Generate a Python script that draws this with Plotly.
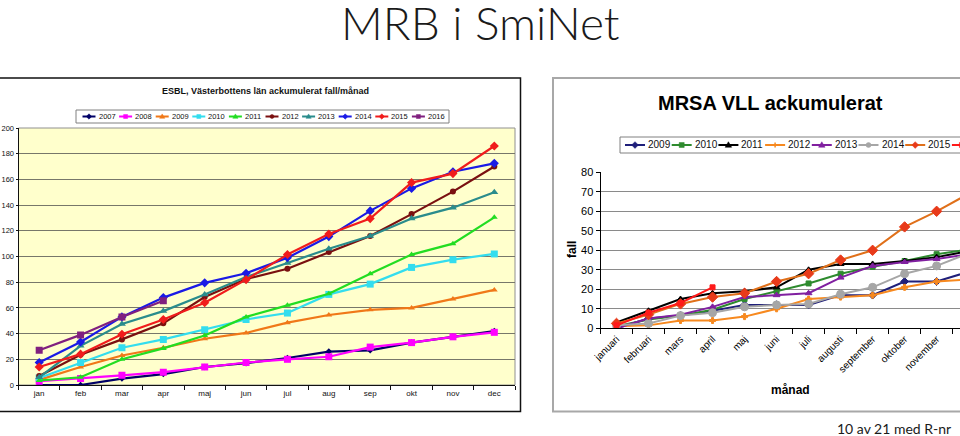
import plotly.graph_objects as go

# ---------------- data ----------------
esbl_months = ["jan", "feb", "mar", "apr", "maj", "jun", "jul", "aug", "sep", "okt", "nov", "dec"]
esbl_years = ["2007", "2008", "2009", "2010", "2011", "2012", "2013", "2014", "2015", "2016"]
esbl_2007 = [0, 0, 5, 8.5, 14, 17, 21, 26, 27, 33, 37.5, 42]
esbl_2008 = [3, 5, 7.5, 10, 14, 17.5, 20, 22, 29.5, 33, 37.5, 41]
esbl_2009 = [4, 14, 23, 29, 36, 40.5, 48.5, 54.5, 58.5, 60, 67, 74]
esbl_2010 = [5.5, 17.5, 29, 35.5, 43, 51, 56, 70.5, 78.5, 91.5, 97.5, 102]
esbl_2011 = [3.5, 6, 20, 28.5, 38.5, 53, 62, 71, 86.5, 101.5, 110, 130.5]
esbl_2012 = [7, 23.5, 35.5, 48, 68.5, 82.5, 90.5, 103.5, 116, 133, 150.5, 170]
esbl_2013 = [6, 30.5, 47.5, 57.5, 70.5, 84, 95, 106, 116, 129.5, 138, 150]
esbl_2014 = [17.5, 33.5, 53, 68, 79.5, 87, 99, 115.5, 135.5, 153, 166, 172.5]
esbl_2015 = [14, 24, 39.5, 51, 64, 82, 101.5, 117.5, 129.5, 157.5, 164.5, 186]
esbl_2016 = [27, 39, 53, 65.5]
esbl_values = [esbl_2007, esbl_2008, esbl_2009, esbl_2010, esbl_2011,
               esbl_2012, esbl_2013, esbl_2014, esbl_2015, esbl_2016]

mrsa_months = ["januari", "februari", "mars", "april", "maj", "juni", "juli",
               "augusti", "september", "oktober", "november", "december"]
mrsa_years = ["2009", "2010", "2011", "2012", "2013", "2014", "2015", "2016"]
mrsa_2009 = [0, 5, 6.5, 9, 12, 12, 12, 17, 17, 24, 24, 29]
mrsa_2010 = [1, 4.5, 6.5, 9.5, 15, 19, 23, 28, 31.5, 34.5, 38, 40.5]
mrsa_2011 = [3, 9, 15, 18, 19, 21, 30, 33, 33, 34.5, 36.5, 39.5]
mrsa_2012 = [1, 1.5, 4, 4, 6, 10, 15, 16, 17, 21, 24, 25]
mrsa_2013 = [0, 5, 7, 11, 16, 17, 18, 26, 32, 34, 35.5, 38]
mrsa_2014 = [1.5, 2.5, 6.5, 8, 11, 12, 12.5, 17.5, 21, 28, 32, 38.5]
mrsa_2015 = [2.5, 7, 12.5, 16, 18, 24, 28, 35, 40, 52, 60, 69]
mrsa_2016 = [1.5, 8, 13, 21]
mrsa_values = [mrsa_2009, mrsa_2010, mrsa_2011, mrsa_2012,
               mrsa_2013, mrsa_2014, mrsa_2015, mrsa_2016]

# ---------------- styles ----------------
esbl_colors = ["#000066", "#FF00FF", "#F07818", "#33DDEE", "#22DD22",
               "#7A1010", "#2A8C8C", "#1A1AE6", "#F01C1C", "#80207F"]
esbl_symbols = ["diamond", "square", "triangle-up", "square", "triangle-up",
                "circle", "triangle-up", "diamond", "diamond", "square"]
esbl_sizes = [5, 7, 6, 7, 6, 6, 7, 7, 7, 7]

mrsa_colors = ["#1F1F7A", "#2E8B2E", "#000000", "#F7891F",
               "#8020A0", "#A6A6A6", "#E0701A", "#FF1A1A"]
mrsa_mcolors = ["#1F1F7A", "#2E8B2E", "#000000", "#F7891F",
                "#8020A0", "#A6A6A6", "#E83A1A", "#FF1A1A"]
mrsa_symbols = ["diamond", "square", "triangle-up", "cross",
                "triangle-up", "circle", "diamond", "square"]
mrsa_sizes = [6, 5, 6, 5, 6, 8, 8, 5]

W, H = 960, 436
ARIAL = "Arial, Liberation Sans, sans-serif"


def px(x):
    return x / W


def py(y):
    return 1 - y / H


fig = go.Figure()

for name, vals, c, s, sz in zip(esbl_years, esbl_values, esbl_colors, esbl_symbols, esbl_sizes):
    fig.add_trace(go.Scatter(
        x=esbl_months[:len(vals)], y=vals, name=name, mode="lines+markers",
        line=dict(color=c, width=2.2), marker=dict(color=c, symbol=s, size=sz),
        xaxis="x", yaxis="y", showlegend=False))

for name, vals, c, mc, s, sz in zip(mrsa_years, mrsa_values, mrsa_colors, mrsa_mcolors, mrsa_symbols, mrsa_sizes):
    fig.add_trace(go.Scatter(
        x=mrsa_months[:len(vals)], y=vals, name=name, mode="lines+markers",
        line=dict(color=c, width=2),
        marker=dict(color=mc, symbol=s, size=sz, line=dict(color=mc, width=1)),
        xaxis="x2", yaxis="y2", showlegend=False))

shapes = []
annotations = []

# frames and plot backgrounds
shapes.append(dict(type="rect", xref="paper", yref="paper", x0=px(-5), x1=px(520.5),
                   y0=py(411.5), y1=py(78), line=dict(color="#111111", width=1.5), layer="below"))
shapes.append(dict(type="rect", xref="x domain", yref="y domain", x0=0, x1=1, y0=0, y1=1,
                   fillcolor="#FFFFCC", line=dict(color="#909090", width=1), layer="below"))
shapes.append(dict(type="rect", xref="paper", yref="paper", x0=px(553), x1=px(1000),
                   y0=py(411.5), y1=py(78), line=dict(color="#A8A8A8", width=2), layer="below"))


def glyph(symbol, cx, cy, r, color):
    if symbol == "circle":
        return dict(type="circle", xref="paper", yref="paper", x0=px(cx - r), x1=px(cx + r),
                    y0=py(cy + r), y1=py(cy - r), fillcolor=color, line=dict(color=color, width=0.5))
    if symbol == "cross":
        path = (f"M{px(cx - r)},{py(cy)} L{px(cx + r)},{py(cy)} "
                f"M{px(cx)},{py(cy - r)} L{px(cx)},{py(cy + r)}")
        return dict(type="path", xref="paper", yref="paper", path=path,
                    line=dict(color=color, width=1.5))
    if symbol == "square":
        pts = [(cx - r, cy - r), (cx + r, cy - r), (cx + r, cy + r), (cx - r, cy + r)]
    elif symbol == "diamond":
        k = r * 1.35
        pts = [(cx, cy - k), (cx + k, cy), (cx, cy + k), (cx - k, cy)]
    else:
        pts = [(cx, cy - r * 1.3), (cx + r * 1.3, cy + r * 0.9), (cx - r * 1.3, cy + r * 0.9)]
    path = "M" + " L".join(f"{px(x)},{py(y)}" for x, y in pts) + " Z"
    return dict(type="path", xref="paper", yref="paper", path=path,
                fillcolor=color, line=dict(color=color, width=0.5))


def add_legend(names, colors, mcolors, symbols, x0, y, pitch, line_len, r, fsize, box):
    bx0, by0, bx1, by1 = box
    shapes.append(dict(type="rect", xref="paper", yref="paper", x0=px(bx0), x1=px(bx1),
                       y0=py(by1), y1=py(by0), fillcolor="white",
                       line=dict(color="#808080", width=1)))
    for i, (n, c, mc, s) in enumerate(zip(names, colors, mcolors, symbols)):
        xs = x0 + i * pitch
        shapes.append(dict(type="line", xref="paper", yref="paper", x0=px(xs), x1=px(xs + line_len),
                           y0=py(y), y1=py(y), line=dict(color=c, width=2)))
        shapes.append(glyph(s, xs + line_len / 2, y, r, mc))
        if xs + line_len + 1 < W - 10:
            annotations.append(dict(text=n, xref="paper", yref="paper", x=px(xs + line_len + 1), y=py(y),
                                    xanchor="left", yanchor="middle", showarrow=False,
                                    font=dict(family=ARIAL, size=fsize, color="#111111")))


add_legend(esbl_years, esbl_colors, esbl_colors, esbl_symbols,
           82.5, 116.5, 36.6, 13, 2, 7.5, (76, 110, 449, 123))
add_legend(mrsa_years, mrsa_colors, mrsa_mcolors, mrsa_symbols,
           625, 145, 46.7, 20, 2.5, 10, (620, 137, 1000, 153))

# texts
annotations += [
    dict(text="MRB i SmiNet", x=0.5, y=py(22), font=dict(family="Lato", size=46, color="#1a1a1a", weight=300)),
    dict(text="<b>ESBL, Västerbottens län ackumulerat fall/månad</b>", x=px(265), y=py(91),
         font=dict(family=ARIAL, size=9, color="#111111")),
    dict(text="<b>MRSA VLL ackumulerat</b>", x=px(770), y=py(103),
         font=dict(family=ARIAL, size=20, color="#000000")),
    dict(text="<b>fall</b>", x=px(572), y=py(250), textangle=-90,
         font=dict(family=ARIAL, size=12, color="#000000")),
    dict(text="<b>månad</b>", x=px(790), y=py(390),
         font=dict(family=ARIAL, size=12, color="#000000")),
    dict(text="10 av 21 med R-nr", x=px(894), y=py(428),
         font=dict(family="Lato", size=14, color="#1a1a1a")),
]
for a in annotations:
    a.setdefault("xref", "paper")
    a.setdefault("yref", "paper")
    a.setdefault("showarrow", False)
    a.setdefault("xanchor", "center")
    a.setdefault("yanchor", "middle")

fig.update_layout(
    width=W, height=H,
    margin=dict(l=0, r=0, t=0, b=0, pad=0, autoexpand=False),
    paper_bgcolor="white", plot_bgcolor="rgba(0,0,0,0)",
    showlegend=False, hovermode=False,
    shapes=shapes, annotations=annotations,
    xaxis=dict(domain=[px(18.5), px(515)], anchor="y", type="category",
               categoryorder="array", categoryarray=esbl_months, range=[-0.5, 11.5],
               showline=True, linecolor="#111111", linewidth=1, ticks="outside",
               tickson="boundaries", ticklen=4, tickcolor="#111111",
               tickfont=dict(family=ARIAL, size=8, color="#111111"), showgrid=False),
    yaxis=dict(domain=[py(385), py(128)], anchor="x", range=[0, 200], dtick=20,
               showline=True, linecolor="#111111", linewidth=1, ticks="outside",
               ticklen=2, tickcolor="#111111", gridcolor="#77776a", gridwidth=1,
               zeroline=False, tickfont=dict(family=ARIAL, size=7.5, color="#111111")),
    xaxis2=dict(domain=[px(600.5), 1], anchor="y2", type="category",
                categoryorder="array", categoryarray=mrsa_months, range=[-0.5, 10.73],
                showline=True, linecolor="#000000", linewidth=1, ticks="outside",
                tickson="boundaries", ticklen=5, tickcolor="#000000", tickangle=-45,
                tickfont=dict(family=ARIAL, size=10, color="#000000"), showgrid=False),
    yaxis2=dict(domain=[py(328.3), py(172.3)], anchor="x2", range=[0, 80], dtick=10,
                showline=True, linecolor="#000000", linewidth=1, ticks="outside",
                ticklen=4, tickcolor="#000000", gridcolor="#8a8a8a", gridwidth=1,
                zeroline=False, tickfont=dict(family=ARIAL, size=11, color="#000000")),
)

fig.write_html("out.html", config={"displayModeBar": False},
               post_script="document.body.style.margin='0px';document.body.style.padding='0px';")
